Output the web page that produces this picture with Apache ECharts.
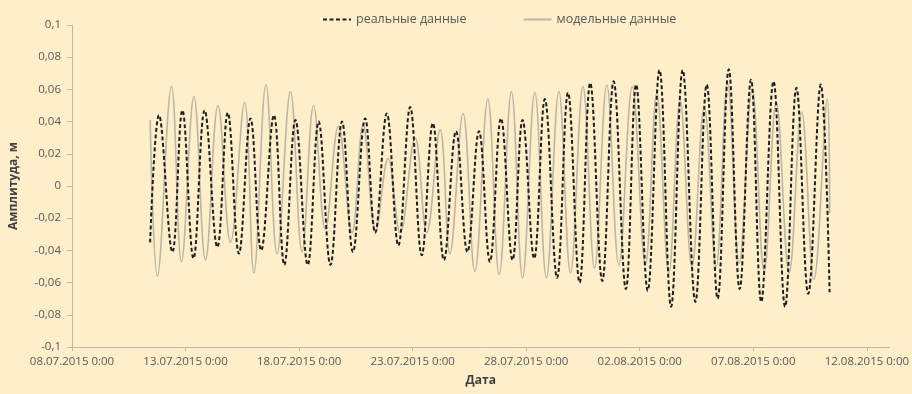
<!DOCTYPE html>
<html>
<head>
<meta charset="utf-8">
<title>Амплитуда</title>
<script src="https://cdn.jsdelivr.net/npm/echarts@6/dist/echarts.min.js"></script>
<style>
  html, body { margin: 0; padding: 0; background: #FEEFCA; }
  #chart { width: 912px; height: 394px; }
</style>
</head>
<body>
<div id="chart"></div>
<script>
// Time is counted in days from 08.07.2015 0:00
const realT = [3.44, 3.83, 4.42, 4.86, 5.35, 5.84, 6.40, 6.86, 7.35, 7.86,
  8.33, 8.89, 9.35, 9.84, 10.38, 10.86, 11.38, 11.89, 12.37, 12.91,
  13.35, 13.86, 14.37, 14.89, 15.40, 15.89, 16.38, 16.91, 17.41, 17.92,
  18.40, 18.89, 19.40, 19.84, 20.35, 20.82, 21.36, 21.84, 22.35, 22.82,
  23.35, 23.85, 24.39, 24.84, 25.35, 25.87, 26.38, 26.89, 27.45, 27.95,
  28.43, 28.92, 29.40, 29.90, 30.35, 30.89, 31.40, 31.90, 32.42, 32.97, 33.36];
const realV = [-0.035, 0.044, -0.041, 0.047, -0.045, 0.047, -0.038, 0.0455, -0.042, 0.042,
  -0.040, 0.044, -0.049, 0.041, -0.049, 0.040, -0.049, 0.040, -0.041, 0.042,
  -0.029, 0.045, -0.037, 0.049, -0.043, 0.039, -0.046, 0.034, -0.041, 0.034,
  -0.047, 0.042, -0.046, 0.041, -0.045, 0.054, -0.057, 0.058, -0.060, 0.064,
  -0.059, 0.065, -0.064, 0.063, -0.065, 0.072, -0.075, 0.072, -0.072, 0.063,
  -0.070, 0.0725, -0.064, 0.066, -0.072, 0.065, -0.075, 0.061, -0.067, 0.063, -0.066];

const modelT = [3.44, 3.76, 4.38, 4.82, 5.37, 5.88, 6.43, 6.98, 7.60, 8.01,
  8.54, 9.03, 9.62, 10.13, 10.64, 11.16, 11.73, 12.33, 12.82, 13.37,
  13.92, 14.45, 15.11, 15.62, 16.21, 16.64, 17.22, 17.74, 18.31, 18.81,
  19.35, 19.84, 20.38, 20.89, 21.44, 21.95, 22.50, 23.01, 23.55, 24.08,
  24.67, 25.25, 25.75, 26.28, 26.78, 27.30, 27.84, 28.36, 28.87, 29.38,
  29.95, 30.48, 31.01, 31.58, 32.13, 32.67, 33.26, 33.36];
const modelV = [0.041, -0.056, 0.062, -0.047, 0.0555, -0.046, 0.050, -0.035, 0.052, -0.054,
  0.063, -0.042, 0.0586, -0.041, 0.050, -0.027, 0.037, -0.029, 0.038, -0.028,
  0.017, -0.029, 0.030, -0.029, 0.035, -0.042, 0.045, -0.053, 0.054, -0.055,
  0.0586, -0.057, 0.058, -0.057, 0.0586, -0.054, 0.0617, -0.051, 0.0627, -0.049,
  0.0617, -0.049, 0.0576, -0.054, 0.053, -0.050, 0.049, -0.050, 0.0638, -0.048,
  0.060, -0.053, 0.052, -0.054, 0.046, -0.058, 0.054, -0.017];

const tickDays = [0, 5, 10, 15, 20, 25, 30, 35];
const startDate = Date.UTC(2015, 6, 8);
const seriesNames = ['реальные данные', 'модельные данные'];

const pad = n => (n < 10 ? '0' : '') + n;
function dayLabel(d) {
  const t = new Date(startDate + d * 86400000);
  return pad(t.getUTCDate()) + '.' + pad(t.getUTCMonth() + 1) + '.' + t.getUTCFullYear() +
    ' ' + t.getUTCHours() + ':' + pad(t.getUTCMinutes());
}
const zip = (ts, vs) => ts.map((t, i) => [t, vs[i]]);

const FONT = '"Open Sans", "DejaVu Sans", sans-serif';
const TEXT = '#595959';
const AXIS = '#BFB8A6';

const chart = echarts.init(document.getElementById('chart'), null, { renderer: 'canvas' });
chart.setOption({
  backgroundColor: '#FEEFCA',
  animation: false,
  textStyle: { fontFamily: FONT },
  legend: {
    top: 8,
    left: 317,
    itemWidth: 28,
    itemHeight: 12,
    itemGap: 56,
    itemStyle: { opacity: 0 },
    textStyle: { color: TEXT, fontSize: 12.5, fontFamily: FONT },
    data: seriesNames
  },
  grid: { left: 71, right: 21, top: 25, bottom: 47, containLabel: false },
  xAxis: {
    type: 'value',
    min: 0,
    max: 36,
    name: 'Дата',
    nameLocation: 'middle',
    nameGap: 28,
    nameTextStyle: { color: '#404040', fontWeight: 'bold', fontSize: 12, fontFamily: FONT },
    axisLine: { show: true, onZero: false, lineStyle: { color: AXIS, width: 1 } },
    axisTick: { show: true, length: 4, lineStyle: { color: AXIS }, customValues: tickDays },
    axisLabel: {
      color: TEXT, fontSize: 11.5, margin: 9, fontFamily: FONT,
      customValues: tickDays,
      formatter: v => dayLabel(v)
    },
    splitLine: { show: false }
  },
  yAxis: {
    type: 'value',
    min: -0.1,
    max: 0.1,
    interval: 0.02,
    name: 'Амплитуда, м',
    nameLocation: 'middle',
    nameGap: 52,
    nameTextStyle: { color: '#404040', fontWeight: 'bold', fontSize: 12, fontFamily: FONT },
    axisLine: { show: true, onZero: false, lineStyle: { color: AXIS, width: 1 } },
    axisTick: { show: true, length: 5, lineStyle: { color: AXIS } },
    axisLabel: {
      color: TEXT, fontSize: 11.5, margin: 11, fontFamily: FONT,
      formatter: v => String(+v.toFixed(2)).replace('.', ',')
    },
    splitLine: { show: false }
  },
  series: [
    {
      name: seriesNames[1],
      type: 'line',
      data: zip(modelT, modelV),
      smooth: 0.4,
      symbol: 'none',
      z: 2,
      lineStyle: { color: '#BDB6A4', width: 1.6 },
      itemStyle: { color: '#BDB6A4' }
    },
    {
      name: seriesNames[0],
      type: 'line',
      data: zip(realT, realV),
      smooth: 0.4,
      symbol: 'none',
      z: 3,
      lineStyle: { color: '#1E1E1E', width: 2, type: [4, 2.5] },
      itemStyle: { color: '#1E1E1E' }
    }
  ]
});
</script>
</body>
</html>
